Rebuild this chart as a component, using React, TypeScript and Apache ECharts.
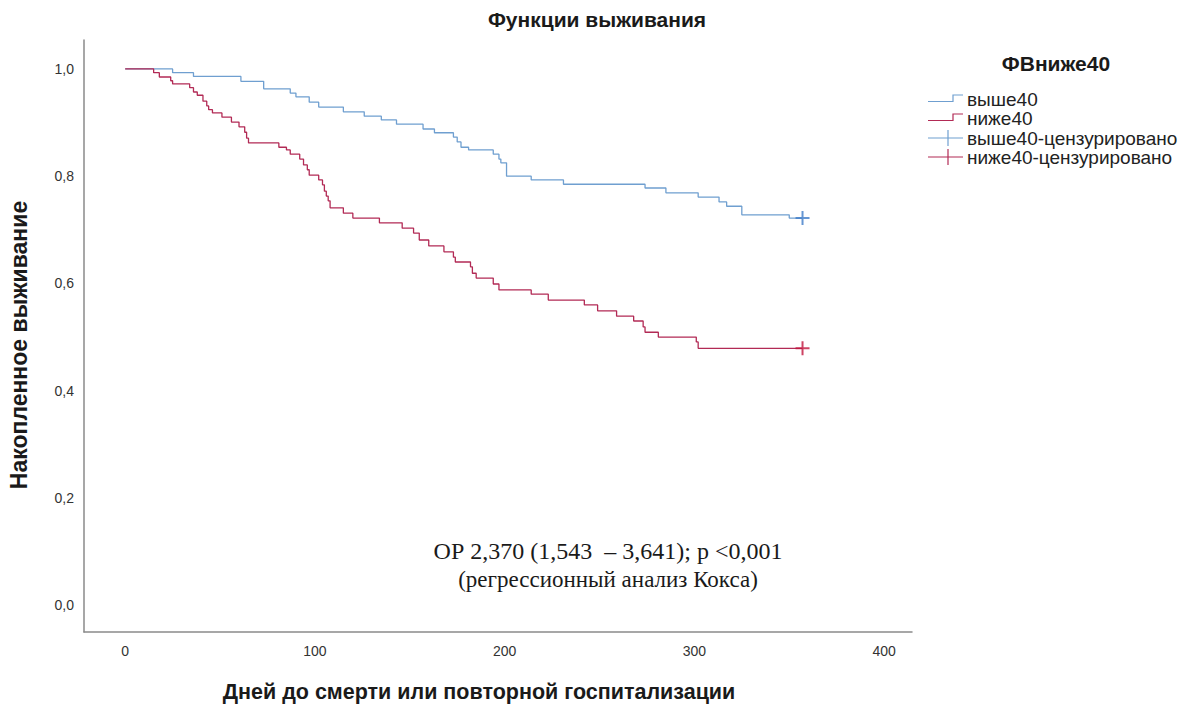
import React, { useEffect, useRef } from 'react';
import * as echarts from 'echarts';

// Kaplan–Meier curve: group "выше40"
const aboveTimes = [0, 25, 36, 61, 73, 87, 90, 97, 102, 115, 126, 135, 143, 157, 163, 173, 175, 177, 181, 194, 197, 198, 201, 214, 231, 274, 285, 302, 313, 317, 325, 350, 357];
const aboveSurv = [1.0, 0.993, 0.986, 0.977, 0.963, 0.955, 0.948, 0.938, 0.929, 0.92, 0.912, 0.905, 0.897, 0.888, 0.881, 0.873, 0.864, 0.854, 0.849, 0.841, 0.832, 0.825, 0.8, 0.793, 0.785, 0.778, 0.769, 0.761, 0.752, 0.744, 0.728, 0.722, 0.722];
// Kaplan–Meier curve: group "ниже40"
const belowTimes = [0, 15, 18, 24, 25, 34, 36, 38, 41, 43, 44, 46, 51, 56, 60, 63, 64, 65, 81, 85, 87, 92, 94, 96, 97, 102, 104, 105, 106, 107, 108, 115, 120, 134, 146, 152, 155, 160, 168, 173, 174, 182, 183, 185, 194, 197, 214, 223, 242, 249, 259, 268, 273, 274, 281, 301, 302, 357];
const belowSurv = [1.0, 0.993, 0.985, 0.978, 0.972, 0.965, 0.957, 0.951, 0.94, 0.931, 0.924, 0.918, 0.91, 0.901, 0.892, 0.882, 0.871, 0.862, 0.854, 0.849, 0.841, 0.832, 0.821, 0.812, 0.802, 0.793, 0.784, 0.772, 0.763, 0.754, 0.741, 0.731, 0.722, 0.713, 0.703, 0.694, 0.681, 0.67, 0.659, 0.649, 0.64, 0.631, 0.619, 0.61, 0.599, 0.588, 0.58, 0.569, 0.56, 0.549, 0.539, 0.53, 0.519, 0.509, 0.5, 0.491, 0.479, 0.479];
// censored observations
const aboveCensorTimes = [357];
const aboveCensorSurv = [0.722];
const belowCensorTimes = [357];
const belowCensorSurv = [0.479];

const legendItems = ['выше40', 'ниже40', 'выше40-цензурировано', 'ниже40-цензурировано'];
const titleText = 'Функции выживания';
const legendTitle = 'ФВниже40';
const xTitle = 'Дней до смерти или повторной госпитализации';
const yTitle = 'Накопленное выживание';
const noteLines = ['ОР 2,370 (1,543  – 3,641); p <0,001', '(регрессионный анализ Кокса)'];

const BLUE = '#6f9fd0';
const RED = '#b22a55';
const BLUE_MARK = '#3f7cc8';
const RED_MARK = '#c0143c';
const SANS = '"Liberation Sans", Arial, sans-serif';
const SERIF = '"Liberation Serif", "Times New Roman", serif';

const PLUS = 'path://M0,6 L6,6 L6,0 L8,0 L8,6 L14,6 L14,8 L8,8 L8,14 L6,14 L6,8 L0,8 Z';

const zip = (a: number[], b: number[]) => a.map((v, i) => [v, b[i]]);

export default function App() {
  const ref = useRef<HTMLDivElement>(null);
  useEffect(() => {
    document.body.style.margin = '0';
    const chart = echarts.init(ref.current!, null, { renderer: 'svg' });

    const legendX = 928;
    const legendYs = [99, 118, 138, 157];
    const legendGraphics: any[] = [];
    legendItems.forEach((name, i) => {
      const y = legendYs[i];
      const color = i % 2 === 0 ? BLUE : RED;
      if (i < 2) {
        legendGraphics.push({
          type: 'polyline',
          shape: { points: [[legendX, y + 2.5], [legendX + 25, y + 2.5], [legendX + 25, y - 4], [legendX + 35, y - 4]] },
          style: { stroke: color, lineWidth: 1.2, fill: null },
        });
      } else {
        legendGraphics.push({
          type: 'line',
          shape: { x1: legendX, y1: y, x2: legendX + 35, y2: y },
          style: { stroke: color, lineWidth: 1.2 },
        });
        legendGraphics.push({
          type: 'line',
          shape: { x1: legendX + 20, y1: y - 8, x2: legendX + 20, y2: y + 8 },
          style: { stroke: color, lineWidth: 1.2 },
        });
      }
      legendGraphics.push({
        type: 'text',
        x: legendX + 39,
        y: y,
        style: {
          text: name,
          font: `19px ${SANS}`,
          fill: '#222',
          textAlign: 'left',
          textVerticalAlign: 'middle',
          align: 'left',
          verticalAlign: 'middle',
        },
      });
    });

    const txt = (text: string, x: number, y: number, font: string, extra: any = {}) => ({
      type: 'text',
      x,
      y,
      ...extra,
      style: {
        text,
        font,
        fill: '#1a1a1a',
        textAlign: 'center',
        textVerticalAlign: 'middle',
        align: 'center',
        verticalAlign: 'middle',
      },
    });

    chart.setOption({
      animation: false,
      backgroundColor: '#ffffff',
      grid: { left: 84, right: 1187 - 912, top: 40, bottom: 706 - 632, containLabel: false },
      xAxis: {
        type: 'value',
        min: -21.7,
        max: 414.7,
        axisLine: { show: true, onZero: false, lineStyle: { color: '#8a8a8a', width: 1.5 } },
        axisTick: { show: false },
        splitLine: { show: false },
        axisLabel: {
          color: '#333',
          fontFamily: SANS,
          fontSize: 14,
          margin: 12,
          formatter: (v: number) => (Math.abs(v / 100 - Math.round(v / 100)) < 1e-6 ? String(Math.round(v)) : ''),
        },
      },
      yAxis: {
        type: 'value',
        min: -0.05,
        max: 1.054,
        axisLine: { show: true, onZero: false, lineStyle: { color: '#8a8a8a', width: 1.5 } },
        axisTick: { show: false },
        splitLine: { show: false },
        axisLabel: {
          color: '#333',
          fontFamily: SANS,
          fontSize: 14,
          margin: 10,
          formatter: (v: number) =>
            Math.abs(v * 5 - Math.round(v * 5)) < 1e-6 && v > -0.01 ? (Math.round(v * 5) / 5).toFixed(1).replace('.', ',') : '',
        },
      },
      series: [
        {
          name: legendItems[0],
          type: 'line',
          step: 'end',
          symbol: 'none',
          data: zip(aboveTimes, aboveSurv),
          lineStyle: { color: BLUE, width: 1.3 },
          z: 2,
        },
        {
          name: legendItems[1],
          type: 'line',
          step: 'end',
          symbol: 'none',
          data: zip(belowTimes, belowSurv),
          lineStyle: { color: RED, width: 1.3 },
          z: 2,
        },
        {
          name: legendItems[2],
          type: 'scatter',
          symbol: PLUS,
          symbolSize: 14,
          data: zip(aboveCensorTimes, aboveCensorSurv),
          itemStyle: { color: BLUE_MARK },
          z: 3,
        },
        {
          name: legendItems[3],
          type: 'scatter',
          symbol: PLUS,
          symbolSize: 14,
          data: zip(belowCensorTimes, belowCensorSurv),
          itemStyle: { color: RED_MARK },
          z: 3,
        },
      ],
      graphic: [
        txt(titleText, 597, 19, `bold 21px ${SANS}`),
        txt(legendTitle, 1056, 63, `bold 21px ${SANS}`),
        txt(xTitle, 479, 692, `bold 21.5px ${SANS}`),
        txt(yTitle, 19, 345, `bold 23px ${SANS}`, { rotation: Math.PI / 2 }),
        txt(noteLines[0], 608, 551, `24px ${SERIF}`),
        txt(noteLines[1], 608, 579, `23px ${SERIF}`),
        ...legendGraphics,
      ],
    });
    return () => chart.dispose();
  }, []);
  return <div ref={ref} style={{ width: 1187, height: 706 }} />;
}
